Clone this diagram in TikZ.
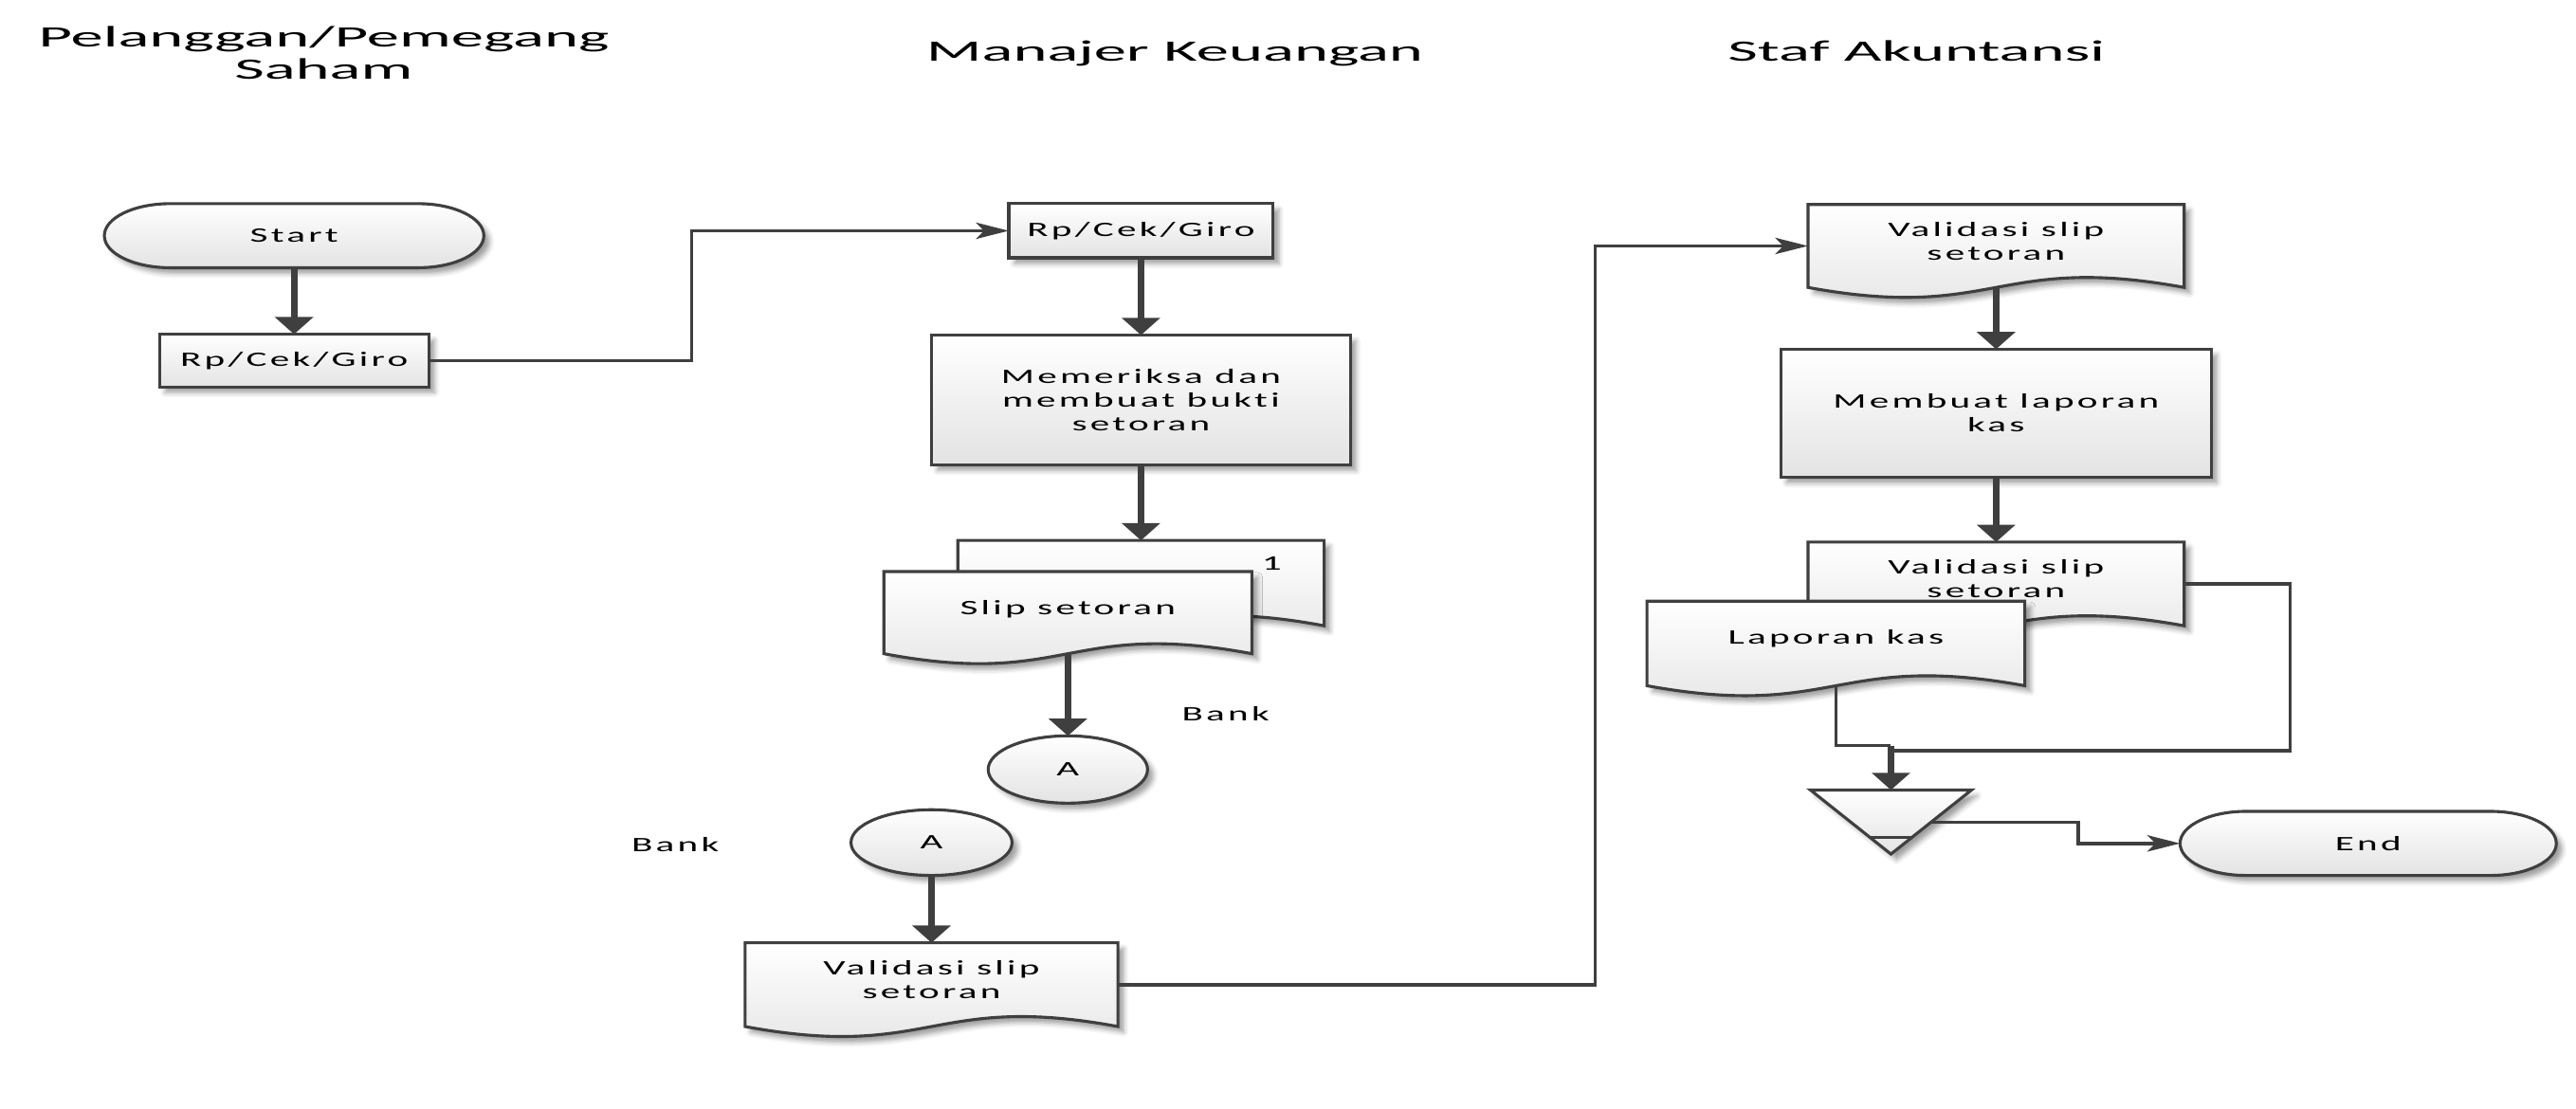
\documentclass[tikz,border=0pt]{standalone}
\usepackage{fontspec}
\setmainfont{Carlito}[FakeStretch=1.9, LetterSpace=15, Ligatures=NoCommon]
\newfontfamily\lanefont{Carlito}[FakeStretch=2.2, Ligatures=NoCommon]
\usetikzlibrary{shapes.geometric,arrows.meta,calc,shadows.blur}

\definecolor{inkgray}{HTML}{3F3F3F}
\definecolor{shadebot}{HTML}{E3E3E3}

\newcommand{\flowtext}{\fontsize{12.5pt}{14.5pt}\selectfont}
\newcommand{\lanetext}{\lanefont\fontsize{18pt}{19pt}\selectfont}

\tikzset{
  solid body/.style={draw=inkgray, line width=1.8pt, top color=white, bottom color=shadebot,
    blur shadow={shadow xshift=3.5pt, shadow yshift=-3.5pt, shadow blur radius=3pt, shadow opacity=38}},
  area/.style={rectangle, draw=none, fill=none, inner sep=0pt, outer sep=0pt},
  process/.style={rectangle, solid body, inner sep=0pt, outer sep=0pt, align=center, font=\flowtext},
  onpage/.style={ellipse, solid body, inner sep=0pt, outer sep=0pt, font=\flowtext},
  caption/.style={inner sep=0pt, align=center, font=\flowtext},
  lane/.style={inner sep=0pt, font=\lanetext, anchor=base},
  flow/.style={draw=inkgray, line width=4pt, -{Triangle[width=23pt,length=10.5pt]}},
  link/.style={draw=inkgray, line width=2pt},
  linkto/.style={link, -{Stealth[length=20pt,width=10pt,inset=5pt]}},
}

% document symbol with a wavy lower edge, built on an area node
\newcommand{\docsymbol}[1]{%
  \path[solid body] (#1.north west) -- (#1.north east) -- (#1.south east)
    .. controls ($(#1.south)+(0,21pt)$) and ($(#1.south)+(0,-21pt)$) .. (#1.south west) -- cycle;}
% terminator with elliptical ends
\newcommand{\terminator}[1]{%
  \path[solid body] ($(#1.north west)+(40pt,0)$) -- ($(#1.north east)+(-40pt,0)$)
    arc[start angle=90,end angle=-90,x radius=40pt,y radius=19.5pt]
    -- ($(#1.south west)+(40pt,0)$)
    arc[start angle=270,end angle=90,x radius=40pt,y radius=19.5pt] -- cycle;}
% offline storage (merge) triangle
\newcommand{\mergesymbol}[1]{%
  \path[solid body] (#1.north west) -- (#1.north east) -- (#1.south) -- cycle;
  \draw[draw=inkgray, line width=1.8pt] ($(#1.north west)!0.744!(#1.south)$) -- ($(#1.north east)!0.744!(#1.south)$);}

\begin{document}
\begin{tikzpicture}[x=1pt,y=-1pt]
\useasboundingbox (0,0) rectangle (1568,675);

% lane titles
\node[lane] (laneA1) at (197,28.5) {Pelanggan/Pemegang};
\node[lane] (laneA2) at (197,48) {Saham};
\node[lane] (laneB) at (715,37.5) {Manajer Keuangan};
\node[lane] (laneC) at (1166.5,37.5) {Staf Akuntansi};

% customer / shareholder
\node[area, minimum width=231pt, minimum height=39pt] (start) at (179,143.5) {};
\terminator{start}
\node[caption] (start-t) at (start) {Start};
\node[process, minimum width=164pt, minimum height=32pt] (rp1) at (179,219.5) {Rp/Cek/Giro};

% finance manager
\node[process, minimum width=161pt, minimum height=33pt] (rp2) at (694.5,140.5) {Rp/Cek/Giro};
\node[process, minimum width=255pt, minimum height=79pt] (check) at (694.5,243.5) {Memeriksa dan\\membuat bukti\\setoran};
\node[area, minimum width=223pt, minimum height=52pt] (slip2) at (694.5,355) {};
\docsymbol{slip2}
\node[caption] (copy-no) at (774,343) {1};
\node[area, minimum width=224pt, minimum height=50pt] (slip1) at (650,373) {};
\docsymbol{slip1}
\node[caption] (slip1-t) at (650,371) {Slip setoran};
\node[onpage, minimum width=97pt, minimum height=41pt] (conA) at (650,468.5) {A};
\node[caption] (bank1) at (746,434.5) {Bank};

% bank
\node[caption] (bank2) at (411,514) {Bank};
\node[onpage, minimum width=98pt, minimum height=40pt] (conB) at (567,513) {A};
\node[area, minimum width=227pt, minimum height=51pt] (valid) at (567,599.5) {};
\docsymbol{valid}
\node[caption] (valid-t) at (567,596.3) {Validasi slip\\setoran};

% accounting staff
\node[area, minimum width=229pt, minimum height=50.5pt] (vd1) at (1215,149.75) {};
\docsymbol{vd1}
\node[caption] (vd1-t) at (1215,146.8) {Validasi slip\\setoran};
\node[process, minimum width=262pt, minimum height=78pt] (report) at (1215,251.6) {Membuat laporan\\kas};
\node[area, minimum width=229pt, minimum height=51pt] (vd2) at (1215,355.5) {};
\docsymbol{vd2}
\node[caption] (vd2-t) at (1215,352.2) {Validasi slip\\setoran};
\node[area, minimum width=230pt, minimum height=51.5pt] (cash) at (1117.5,391.75) {};
\docsymbol{cash}
\node[caption] (cash-t) at (1117.5,388.6) {Laporan kas};
\node[area, minimum width=98pt, minimum height=39pt] (store) at (1151,500.5) {};
\mergesymbol{store}
\node[area, minimum width=229pt, minimum height=39pt] (finish) at (1441.5,513.5) {};
\terminator{finish}
\node[caption] (finish-t) at (finish) {End};

% connectors
\coordinate (bendA) at (421,0);
\draw[linkto] (rp1.east) -- (rp1.east -| bendA) -- (bendA |- rp2.west) -- (rp2.west);
\draw[flow] (start.south) -- (rp1.north);
\draw[flow] (rp2.south) -- (check.north);
\draw[flow] (check.south) -- (slip2.north);
\draw[flow] (slip1.south) -- (conA.north);
\draw[flow] (conB.south) -- (valid.north);
\coordinate (bendB) at (971,0);
\draw[linkto] (valid.east) -- (valid.east -| bendB) -- (bendB |- vd1.west) -- (vd1.west);
\draw[flow] (vd1.south) -- (report.north);
\draw[flow] (report.south) -- (vd2.north);
\coordinate (bendC) at (1394,457);
\coordinate (joinL) at (1151,454);
\coordinate (joinR) at (1151,457);
\draw[link] (vd2.east) -- (vd2.east -| bendC) -- (bendC) -- (joinR);
\draw[link] (cash.south) -- (cash.south |- joinL) -- (joinL);
\draw[flow] (joinL) -- (store.north);
\coordinate (storeOut) at ($(store.north east)!0.5!(store.south)$);
\coordinate (bendD) at (1265,0);
\draw[linkto] (storeOut) -- (storeOut -| bendD) -- (bendD |- finish.west) -- (finish.west);
\end{tikzpicture}
\end{document}
